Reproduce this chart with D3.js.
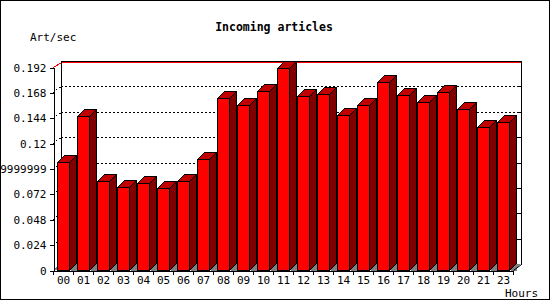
<!DOCTYPE html>
<html><head><meta charset="utf-8">
<script src="https://cdn.jsdelivr.net/npm/d3@7"></script>
<style>
html,body{margin:0;padding:0;background:#fff;}
svg text{font-family:"DejaVu Sans Mono",monospace;font-size:11px;fill:#000;}
</style></head>
<body>
<script>
const hours = ["00","01","02","03","04","05","06","07","08","09","10","11","12","13","14","15","16","17","18","19","20","21","23"];
const artPerSec = [0.1019,0.1457,0.0839,0.0782,0.0820,0.0773,0.0839,0.1047,0.1624,0.1558,0.1690,0.1908,0.1643,0.1662,0.1463,0.1558,0.1775,0.1652,0.1586,0.1681,0.1520,0.1350,0.1397];
const yTickValues = [0,0.024,0.048,0.072,0.096,0.12,0.144,0.168,0.192];
const yTickLabels = ["0","0.024","0.048","0.072","0.09599999999","0.12","0.144","0.168","0.192"];
const titleText = "Incoming articles";
const yTitle = "Art/sec";
const xTitle = "Hours";

const W = 550, H = 300;
const pLeft = 53, pRight = 513, pBottom = 270, pTop = 67;
const dX = 8, dY = 6;      // wall depth
const bX = 7, bY = 7;      // bar depth

const svg = d3.select("body").append("svg").attr("width", W).attr("height", H);

const x = d3.scaleBand().domain(hours).range([pLeft, pRight]).paddingInner(0.4).paddingOuter(0.2);
const y = d3.scaleLinear().domain([0, 0.192]).range([pBottom, pTop]);

// outer border
svg.append("rect").attr("x",0.5).attr("y",0.5).attr("width",W-1).attr("height",H-1)
  .attr("fill","#fff").attr("stroke","#000").attr("shape-rendering","crispEdges");

// back wall gridlines (dotted)
const g = svg.append("g").attr("shape-rendering","crispEdges");
yTickValues.filter(v => v > 0 && v < 0.192).forEach(v => {
  const yy = Math.round(y(v)) - dY + 0.5;
  g.append("line").attr("x1", pLeft + dX).attr("x2", pRight + dX).attr("y1", yy).attr("y2", yy)
    .attr("stroke","#000").attr("stroke-dasharray","2,2");
  g.append("line").attr("x1", pLeft).attr("y1", Math.round(y(v)) + 0.5).attr("x2", pLeft + dX).attr("y2", yy)
    .attr("stroke","#000").attr("stroke-dasharray","1,3");
  g.append("line").attr("x1", pRight + dX - 3).attr("x2", pRight + dX).attr("y1", yy).attr("y2", yy)
    .attr("stroke","#000");
});

// back wall frame
const bx0 = pLeft + dX + 0.5, bx1 = pRight + dX + 0.5, by0 = Math.round(y(0.192)) - dY + 0.5, by1 = Math.round(y(0)) - dY + 0.5;
// red max line
g.append("path").attr("d", `M${pLeft+0.5},${Math.round(y(0.192))+0.5}L${bx0},${by0+1}H${bx1-1}`)
  .attr("fill","none").attr("stroke","#ff0000");
g.append("path").attr("d", `M${bx0},${by1}V${by0}H${bx1}V${by1}`).attr("fill","none").attr("stroke","#000");

// floor
g.append("path").attr("d", `M${pLeft},${pBottom}L${pLeft+dX},${pBottom-dY}H${pRight+dX}L${pRight},${pBottom}Z`)
  .attr("fill","#808080");

// bars
const bars = svg.append("g").attr("shape-rendering","crispEdges");
hours.forEach((h, i) => {
  const x0 = Math.round(x(h)) + 0.5, w = x.bandwidth();
  const yv = Math.round(y(artPerSec[i])) + 0.5, yb = pBottom + 0.5;
  bars.append("path").attr("d", `M${x0+w},${yv}L${x0+w+bX},${yv-bY}V${yb-bY}L${x0+w},${yb}Z`)
    .attr("fill","#800000").attr("stroke","#000");
  bars.append("path").attr("d", `M${x0},${yv}L${x0+bX},${yv-bY}H${x0+w+bX}L${x0+w},${yv}Z`)
    .attr("fill","#c00000").attr("stroke","#000");
  bars.append("rect").attr("x", x0).attr("y", yv).attr("width", w).attr("height", yb - yv)
    .attr("fill","#ff0000").attr("stroke","#000");
  bars.append("path").attr("d", `M${x0+w+1},${yb}L${x0+w+bX},${yb-bY+1}V${yb}Z`).attr("fill","#808080");
});

// right floor edge
svg.append("line").attr("x1", pRight + 0.5).attr("y1", pBottom + 0.5).attr("x2", pRight + dX + 0.5).attr("y2", pBottom - dY + 0.5)
  .attr("stroke","#000");

// y axis
const yAxis = d3.axisLeft(y).tickValues(yTickValues).tickFormat((d, i) => yTickLabels[i])
  .tickSize(4).tickSizeOuter(0).tickPadding(3);
const ya = svg.append("g").attr("transform", `translate(${pLeft + 0.5},0.5)`).call(yAxis);
ya.selectAll("path,line").attr("stroke","#000").attr("shape-rendering","crispEdges");
ya.selectAll("text").attr("font-family","DejaVu Sans Mono").attr("font-size","11px").attr("fill","#000");

// x axis (labels at band centers)
const xAxis = d3.axisBottom(x).tickSize(0).tickSizeOuter(0).tickPadding(6);
const xa = svg.append("g").attr("transform", `translate(0.5,${pBottom + 0.5})`).call(xAxis);
xa.selectAll("path").attr("stroke","#000").attr("shape-rendering","crispEdges");
xa.selectAll("text").attr("font-family","DejaVu Sans Mono").attr("font-size","11px").attr("fill","#000");
const half = (x.step() - x.bandwidth()) / 2;
const bounds = hours.map(h => x(h) - half).concat([x(hours[hours.length-1]) + x.bandwidth() + half]);
svg.append("g").attr("shape-rendering","crispEdges").selectAll("line").data(bounds).join("line")
  .attr("x1", d => Math.round(d) + 0.5).attr("x2", d => Math.round(d) + 0.5)
  .attr("y1", pBottom + 0.5).attr("y2", pBottom + 4.5).attr("stroke","#000");

// titles
svg.append("text").attr("x", 274).attr("y", 31).attr("text-anchor","middle")
  .style("font-weight","bold").style("font-size","11.5px").text(titleText);
svg.append("text").attr("x", 30).attr("y", 41).text(yTitle);
svg.append("text").attr("x", 505).attr("y", 297).text(xTitle);
</script>
</body></html>
